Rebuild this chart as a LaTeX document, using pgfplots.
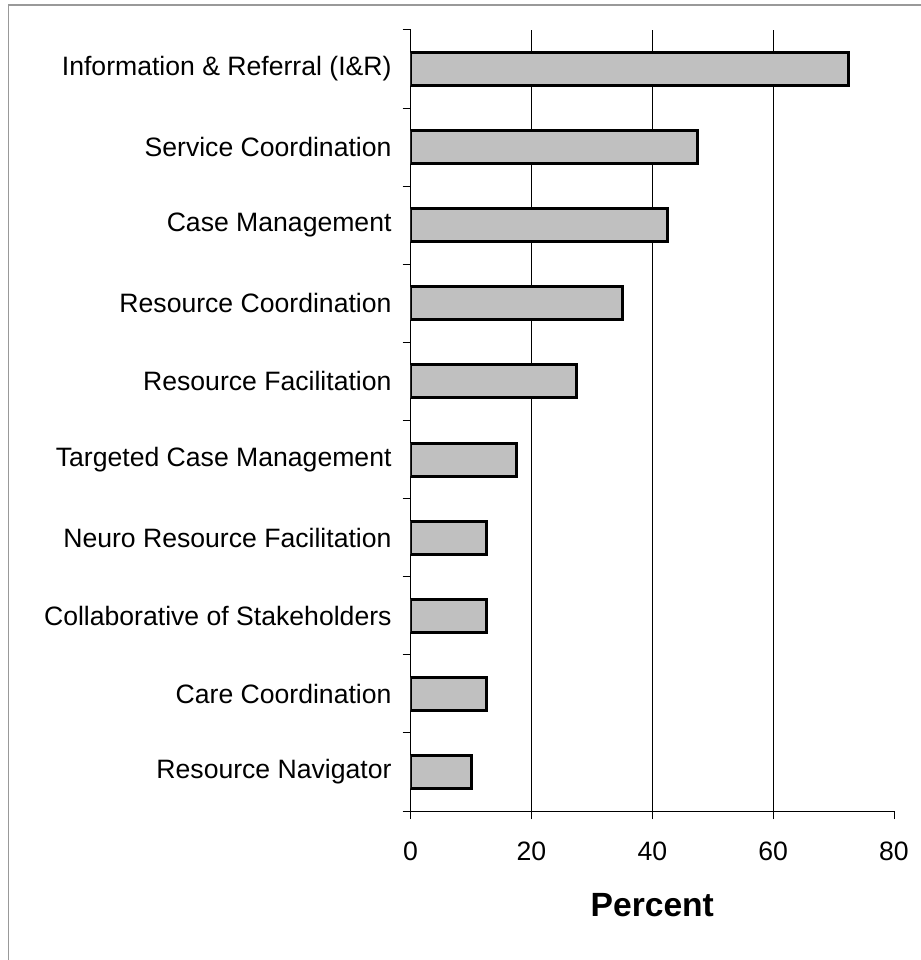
\documentclass[border=0pt]{standalone}
\usepackage{pgfplots}
\pgfplotsset{compat=1.18}
\usepackage{fontspec}
\setmainfont{Liberation Sans}
\definecolor{barfill}{HTML}{C0C0C0}
\definecolor{framegray}{HTML}{999999}
\begin{document}
\begin{tikzpicture}
\useasboundingbox (0,0) rectangle (460.5pt,480pt);
\draw[framegray, line width=0.9pt] (4.25pt,0pt) -- (4.25pt,477.5pt) -- (460.5pt,477.5pt);
\begin{axis}[
  at={(205.3pt,74.5pt)}, anchor=south west,
  scale only axis, width=241.7pt, height=390.5pt,
  xmin=0, xmax=80, ymin=-0.5, ymax=9.5,
  xbar, bar width=16.5pt,
  axis x line*=bottom, axis y line*=left,
  axis line style={-, black, line width=0.5pt},
  xtick={0,20,40,60,80},
  extra x ticks={20,40,60}, extra x tick labels={},
  extra x tick style={grid=major},
  major grid style={black, line width=0.5pt},
  ytick={0,...,9},
  yticklabels={Resource Navigator, Care Coordination, Collaborative of Stakeholders, Neuro Resource Facilitation, Targeted Case Management, Resource Facilitation, Resource Coordination, Case Management, Service Coordination, Information \& Referral (I\&R)},
  minor ytick={-0.5,0.5,...,9.5},
  tick align=outside,
  major tick length=4pt, minor tick length=4pt,
  x tick style={black, line width=0.5pt},
  major y tick style={draw=none},
  minor y tick style={draw=black, line width=0.5pt},
  tick label style={font=\fontsize{13.3}{16}\selectfont},
  /pgf/number format/assume math mode=true,
  xticklabel style={yshift=-8pt},
  yticklabel style={xshift=-2pt},
  xlabel={Percent},
  xlabel style={font=\fontsize{16.8}{20}\selectfont\bfseries, at={(axis description cs:0.5,0)}, anchor=center, yshift=-47pt},
]
\addplot[fill=barfill, draw=black, line width=1.5pt] coordinates {
(10,0) (12.5,1) (12.5,2) (12.5,3) (17.5,4) (27.5,5) (35,6) (42.5,7) (47.5,8) (72.5,9)
};
\end{axis}
\end{tikzpicture}
\end{document}
